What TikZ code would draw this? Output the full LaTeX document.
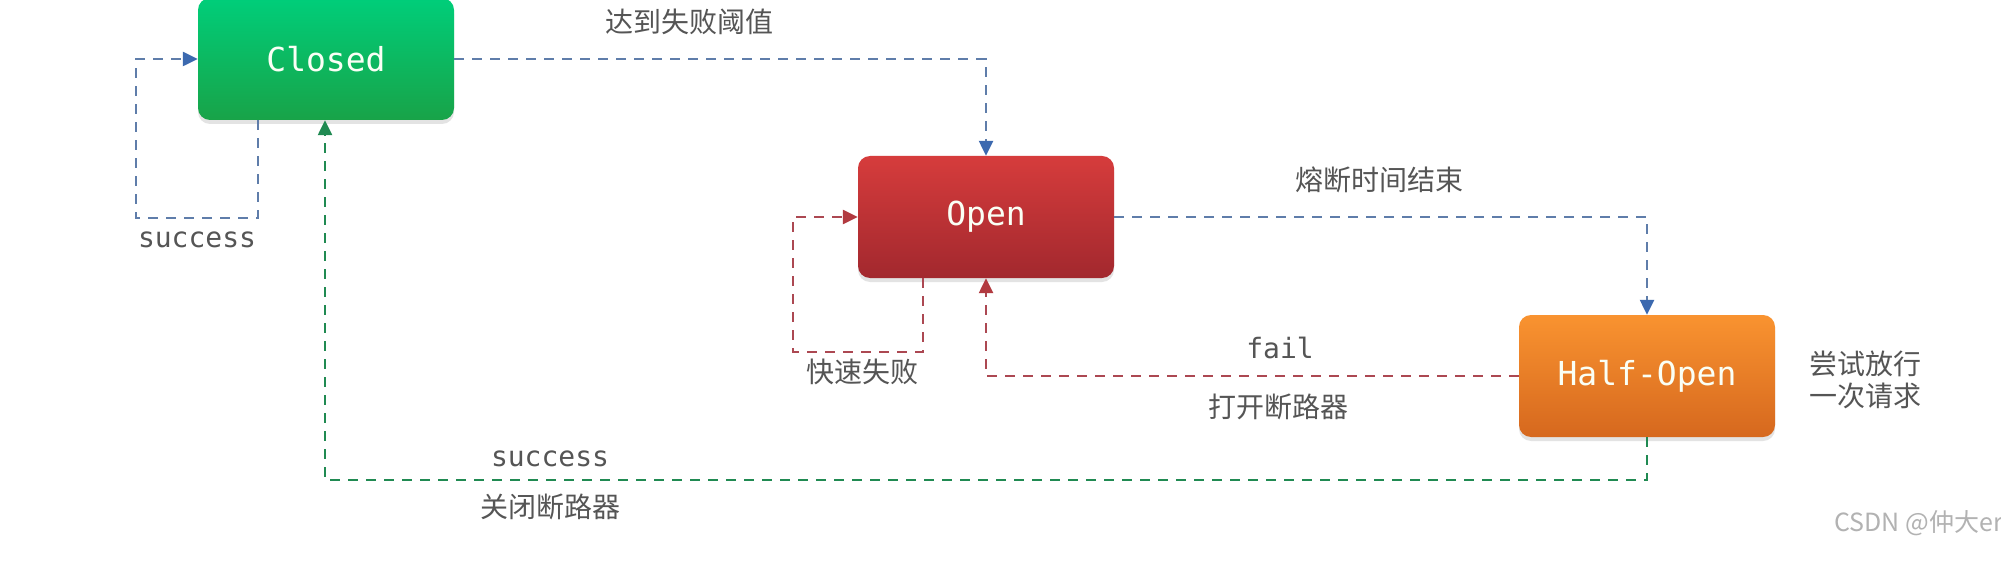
\documentclass[tikz,border=0pt]{standalone}
\usepackage{fontspec}
\usetikzlibrary{arrows.meta,shadows,calc}
\newfontfamily\cjk{Noto Sans CJK SC}
\newfontfamily\monof{DejaVu Sans Mono}
\definecolor{lnblue}{RGB}{95,125,170}
\definecolor{tipblue}{RGB}{60,105,175}
\definecolor{lnred}{RGB}{172,72,82}
\definecolor{tipred}{RGB}{178,58,64}
\definecolor{lngreen}{RGB}{32,138,82}
\definecolor{txtgray}{RGB}{85,85,85}
\definecolor{gTop}{RGB}{0,206,122}
\definecolor{gBot}{RGB}{24,163,72}
\definecolor{rTop}{RGB}{214,60,60}
\definecolor{rBot}{RGB}{162,40,46}
\definecolor{oTop}{RGB}{249,147,48}
\definecolor{oBot}{RGB}{214,104,30}
\definecolor{boxtext}{RGB}{250,255,245}
\tikzset{
  statebox/.style={rounded corners=12pt, minimum width=256pt, minimum height=122pt,
    inner sep=0pt, text=boxtext, font=\monof\fontsize{33}{38}\selectfont,
    drop shadow={opacity=0.22, shadow xshift=0pt, shadow yshift=-4pt}},
  conn/.style={line width=2.4pt, dash pattern=on 10pt off 8pt},
  blueline/.style={conn, draw=lnblue, -{Triangle[length=15pt,width=14pt,color=tipblue]}},
  redline/.style={conn, draw=lnred, -{Triangle[length=15pt,width=14pt,color=tipred]}},
  greenline/.style={conn, draw=lngreen, -{Triangle[length=15pt,width=14pt,color=lngreen]}},
  cnlabel/.style={text=txtgray, font=\cjk\fontsize{28}{34}\selectfont, inner sep=0pt},
  monolabel/.style={text=txtgray, font=\monof\fontsize{28}{34}\selectfont, inner sep=0pt},
}
\begin{document}
\begin{tikzpicture}[x=1pt,y=-1pt]
\useasboundingbox (0,0) rectangle (2001,561);
\fill[white] (0,0) rectangle (2001,561);

% states
\node[statebox, top color=gTop, bottom color=gBot] (closed) at (326,59) {Closed};
\node[statebox, top color=rTop, bottom color=rBot] (open) at (986,217) {Open};
\node[statebox, top color=oTop, bottom color=oBot] (half) at (1647,376) {Half-Open};

% helper coordinates
\coordinate (cl1) at (258,218);
\coordinate (cl2) at (136,218);
\coordinate (ol1) at (923,352);
\coordinate (ol2) at (793,352);
\coordinate (gl) at (325,480);

% connectors
\draw[blueline] (closed.south -| cl1) -- (cl1) -- (cl2) |- (closed.west);
\draw[blueline] (closed.east) -| (open.north);
\draw[redline] (open.south -| ol1) -- (ol1) -- (ol2) |- (open.west);
\draw[blueline] (open.east) -| (half.north);
\draw[redline] (half.west) -| (open.south);
\draw[greenline] (half.south) |- (gl) -- (gl |- closed.south);

% labels
\node[monolabel] (lsucc1) at (197,240) {success};
\node[cnlabel] (lthresh) at (689,22) {达到失败阈值};
\node[cnlabel] (lfast) at (862,372) {快速失败};
\node[cnlabel] (ltime) at (1379,180) {熔断时间结束};
\node[monolabel] (lfail) at (1280,348) {fail};
\node[cnlabel] (lopen) at (1278,407) {打开断路器};
\node[monolabel] (lsucc2) at (550,459) {success};
\node[cnlabel] (lclose) at (550,507) {关闭断路器};
\node[cnlabel, align=left] (ltry) at (1865,380) {尝试放行\\[-2pt]一次请求};
\node[anchor=east, inner sep=0pt, text=black!30, font=\cjk\fontsize{25}{30}\selectfont] (wm) at (2003,523) {CSDN @仲大er};
\end{tikzpicture}
\end{document}
